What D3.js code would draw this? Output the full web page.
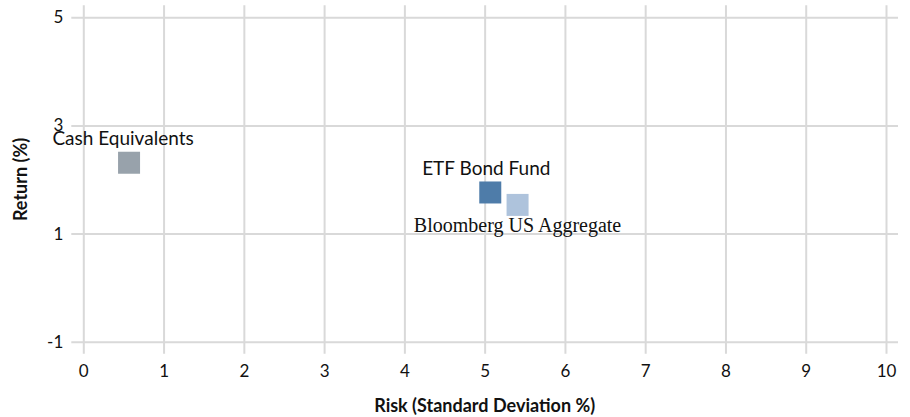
<!DOCTYPE html>
<html>
<head>
<meta charset="utf-8">
<script src="https://cdn.jsdelivr.net/npm/d3@7"></script>
<style>
  body { margin: 0; background: #fff; }
  .tick text { font-family: Lato, "Open Sans", sans-serif; font-size: 17px; fill: #111; }
</style>
</head>
<body>
<script>
// chart data
var names = ["Cash Equivalents", "ETF Bond Fund", "Bloomberg US Aggregate"];
var risk = [0.57, 5.07, 5.41];
var ret = [2.31, 1.76, 1.53];
var colors = ["#98a2ab", "#4e7ca9", "#aec3dc"];
var xTicks = [0, 1, 2, 3, 4, 5, 6, 7, 8, 9, 10];
var yTicks = [-1, 1, 3, 5];

// canvas size
var margin = { top: 17.3, right: 24, bottom: 75.3, left: 83.3 },
    width = 910 - margin.left - margin.right,
    height = 417 - margin.top - margin.bottom;

var x = d3.scaleLinear().domain([0, 10]).range([0, width]);
var y = d3.scaleLinear().domain([-1, 5]).range([height, 0]);

var svg = d3.select("body")
    .append("svg")
    .attr("width", 910)
    .attr("height", 417);

var g = svg.append("g")
    .attr("transform", "translate(" + margin.left + "," + margin.top + ")");

// x axis with gridlines
g.append("g")
    .attr("class", "x axis")
    .attr("transform", "translate(0," + height + ")")
    .call(d3.axisBottom(x).tickValues(xTicks).tickSize(-height - 12).tickPadding(23).tickFormat(String))
    .call(function(a) {
        a.select(".domain").remove();
        a.selectAll(".tick line").attr("y1", 12).attr("stroke", "#d9d9d9").attr("stroke-width", 2);
    });

// y axis with gridlines
g.append("g")
    .attr("class", "y axis")
    .call(d3.axisLeft(y).tickValues(yTicks).tickSize(-width - 12).tickPadding(20).tickFormat(String))
    .call(function(a) {
        a.select(".domain").remove();
        a.selectAll(".tick line").attr("x1", -12).attr("stroke", "#d9d9d9").attr("stroke-width", 2);
    });

// axis titles
svg.append("text")
    .attr("x", margin.left + width / 2)
    .attr("y", 412)
    .attr("text-anchor", "middle")
    .attr("font-family", "Lato, sans-serif")
    .attr("font-weight", "bold")
    .attr("font-size", 18)
    .attr("fill", "#111")
    .text("Risk (Standard Deviation %)");

svg.append("text")
    .attr("transform", "translate(27," + (margin.top + height / 2) + ") rotate(-90)")
    .attr("text-anchor", "middle")
    .attr("font-family", "Lato, sans-serif")
    .attr("font-weight", "bold")
    .attr("font-size", 18)
    .attr("fill", "#111")
    .text("Return (%)");

// square markers
var pts = names.map(function(n, i) { return { name: n, x: risk[i], y: ret[i], color: colors[i] }; });
var size = 22;

g.selectAll(".pt")
    .data(pts)
    .enter()
    .append("rect")
    .attr("class", "pt")
    .attr("x", function(d) { return x(d.x) - size / 2; })
    .attr("y", function(d) { return y(d.y) - size / 2; })
    .attr("width", size)
    .attr("height", size)
    .attr("fill", function(d) { return d.color; });

// labels: first two above the marker (sans), last one below (serif)
var dxs = [-6, -4, 0];
g.selectAll(".lbl")
    .data(pts)
    .enter()
    .append("text")
    .attr("class", "lbl")
    .attr("x", function(d, i) { return x(d.x) + dxs[i]; })
    .attr("y", function(d, i) { return i < 2 ? y(d.y) - 17.5 : y(d.y) + 27; })
    .attr("text-anchor", "middle")
    .attr("font-family", function(d, i) { return i < 2 ? "Lato, sans-serif" : "'Liberation Serif', serif"; })
    .attr("font-size", function(d, i) { return i < 2 ? 19 : 20; })
    .attr("fill", "#111")
    .text(function(d) { return d.name; });
</script>
</body>
</html>
